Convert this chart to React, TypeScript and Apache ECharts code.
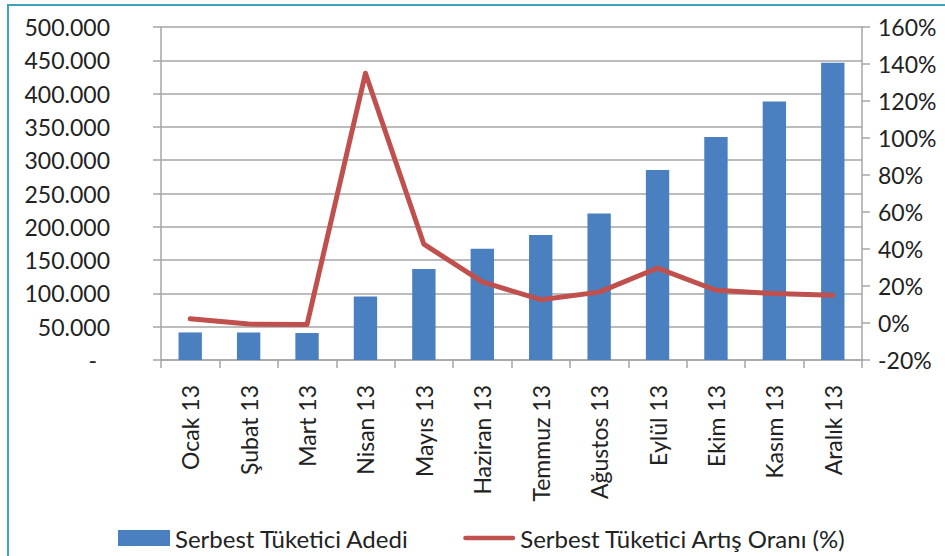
import React, { useEffect, useRef } from "react";
import * as echarts from "echarts";

const categories = ["Ocak 13", "Şubat 13", "Mart 13", "Nisan 13", "Mayıs 13", "Haziran 13", "Temmuz 13", "Ağustos 13", "Eylül 13", "Ekim 13", "Kasım 13", "Aralık 13"];
const adetValues = [41400, 41300, 40500, 95500, 136500, 167000, 187800, 219800, 285400, 335000, 388300, 446300];
const artisValues = [2.3, -0.6, -0.8, 135, 42.6, 22.2, 12.6, 16.7, 29.7, 17.7, 15.9, 15.0];
const seriesNames = ["Serbest Tüketici Adedi", "Serbest Tüketici Artış Oranı (%)"];

const FONT = "Lato";
const TEXT = "#222222";
const GRAY = "#A6A6A6";

function fmtThousands(v: number): string {
  if (v === 0) return "{d|-}";
  return String(v).replace(/\B(?=(\d{3})+(?!\d))/g, ".");
}

export default function App() {
  const ref = useRef<HTMLDivElement>(null);
  useEffect(() => {
    if (!ref.current) return;
    const chart = echarts.init(ref.current, undefined, { renderer: "svg" });
    chart.setOption({
      animation: false,
      backgroundColor: "#fff",
      textStyle: { fontFamily: FONT },
      grid: { left: 161, right: 83, top: 27, bottom: 196, containLabel: false },
      graphic: [
        {
          type: "rect",
          shape: { x: 8, y: 5, width: 1200, height: 1200 },
          style: { fill: "none", stroke: "#3FA2B8", lineWidth: 2 },
          silent: true,
        },
      ],
      legend: {
        left: 113,
        top: 521,
        itemWidth: 52,
        itemHeight: 16,
        itemGap: 54,
        textStyle: { fontFamily: FONT, fontSize: 24, color: TEXT },
        data: [
          { name: seriesNames[0], icon: "rect" },
          {
            name: seriesNames[1],
            icon: "path://M2.5,0 L52.5,0 A2.5,2.5 0 0 1 52.5,5 L2.5,5 A2.5,2.5 0 0 1 2.5,0 Z",
          },
        ],
      },
      xAxis: {
        type: "category",
        data: categories,
        boundaryGap: true,
        axisLine: { show: true, lineStyle: { color: GRAY, width: 1.5 } },
        axisTick: { show: true, length: 8, lineStyle: { color: GRAY, width: 1.5 } },
        axisLabel: {
          rotate: 90,
          margin: 25,
          interval: 0,
          fontFamily: FONT,
          fontSize: 23,
          color: TEXT,
        },
        splitLine: { show: false },
      },
      yAxis: [
        {
          type: "value",
          min: 0,
          max: 500000,
          interval: 50000,
          position: "left",
          axisLine: { show: true, lineStyle: { color: GRAY, width: 1.5 } },
          axisTick: { show: true, length: 8, lineStyle: { color: GRAY, width: 1.5 } },
          splitLine: { show: true, lineStyle: { color: GRAY, width: 1.5 } },
          axisLabel: {
            margin: 51,
            fontFamily: FONT,
            fontSize: 23,
            color: TEXT,
            formatter: (v: number) => fmtThousands(v),
            rich: { d: { fontFamily: FONT, fontSize: 23, color: TEXT, padding: [0, 13, 0, 0] } },
          },
        },
        {
          type: "value",
          min: -20,
          max: 160,
          interval: 20,
          position: "right",
          axisLine: { show: true, lineStyle: { color: GRAY, width: 1.5 } },
          axisTick: { show: true, length: 8, lineStyle: { color: GRAY, width: 1.5 } },
          splitLine: { show: false },
          axisLabel: {
            margin: 16,
            fontFamily: FONT,
            fontSize: 23,
            color: TEXT,
            formatter: "{value}%",
          },
        },
      ],
      series: [
        {
          name: seriesNames[0],
          type: "bar",
          yAxisIndex: 0,
          data: adetValues,
          barWidth: "40%",
          itemStyle: { color: "#4A80BF" },
        },
        {
          name: seriesNames[1],
          type: "line",
          yAxisIndex: 1,
          data: artisValues,
          symbol: "none",
          lineStyle: { color: "#C0504D", width: 5, cap: "round", join: "round" },
          itemStyle: { color: "#C0504D" },
        },
      ],
    });
    return () => chart.dispose();
  }, []);
  return (
    <div
      ref={ref}
      style={{ position: "absolute", left: 0, top: 0, width: 945, height: 556, background: "#fff" }}
    />
  );
}
